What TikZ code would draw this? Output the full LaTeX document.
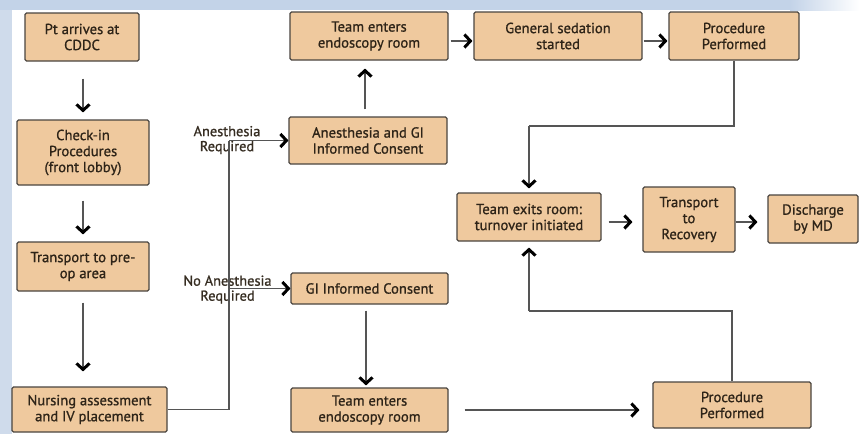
\documentclass[tikz,border=0pt]{standalone}
\usepackage{fontspec}
\setmainfont{PT Sans}[FakeBold=0.9]
\usetikzlibrary{arrows.meta,calc}
\definecolor{boxfill}{HTML}{EFC99E}
\definecolor{boxline}{HTML}{4A4540}
\definecolor{txt}{HTML}{2E2418}
\definecolor{conn}{HTML}{555555}
\definecolor{bandtop}{HTML}{C3D3E8}
\definecolor{bandleft}{HTML}{CFDBEB}
\begin{document}
\begin{tikzpicture}[x=1pt,y=-1pt,
  box/.style={draw=boxline, line width=1.1pt, fill=boxfill, rounded corners=1.5pt,
    align=center, inner sep=0pt, text=txt,
    font=\fontsize{14.6}{16}\selectfont},
  lbl/.style={align=center, inner sep=0pt, text=txt!90!gray,
    font=\fontsize{14.4}{15}\selectfont},
  conline/.style={draw=conn, line width=1.8pt},
  arr/.style={conline, -{Straight Barb[length=6pt,width=13pt,line width=3pt,color=black]}}
]
\useasboundingbox (0,0) rectangle (859,434);
% background
\fill[white] (0,0) rectangle (859,434);
\fill[bandleft] (0,0) rectangle (12,434);
\fill[bandtop] (0,0) rectangle (790,10);
\shade[left color=bandtop, right color=white] (790,0) rectangle (859,10);

% boxes
\node[box, minimum width=114pt, minimum height=48pt] (pt) at (82,37) {Pt arrives at\\CDDC};
\node[box, minimum width=132pt, minimum height=65pt] (chk) at (83,152.5) {Check-in\\Procedures\\(front lobby)};
\node[box, minimum width=132pt, minimum height=49pt] (tpo) at (83,266.5) {Transport to pre-\\op area};
\node[box, minimum width=155pt, minimum height=45pt] (nur) at (89.5,409.5) {Nursing assessment\\and IV placement};
\node[box, minimum width=158pt, minimum height=47pt] (agi) at (368,140.5) {Anesthesia and GI\\Informed Consent};
\node[box, minimum width=157pt, minimum height=31pt] (gi) at (369.5,288.5) {GI Informed Consent};
\node[box, minimum width=158pt, minimum height=48pt] (ter1) at (369,36) {Team enters\\endoscopy room};
\node[box, minimum width=168pt, minimum height=48pt] (gs) at (558,36) {General sedation\\started};
\node[box, minimum width=130pt, minimum height=48pt] (pp1) at (734,36) {Procedure\\Performed};
\node[box, minimum width=144pt, minimum height=48pt] (tex) at (529,217) {Team exits room:\\turnover initiated};
\node[box, minimum width=92pt, minimum height=65pt] (trr) at (689,219.5) {Transport\\to\\Recovery};
\node[box, minimum width=90pt, minimum height=48pt] (dis) at (813,219) {Discharge\\by MD};
\node[box, minimum width=157pt, minimum height=44pt] (ter2) at (369.5,410) {Team enters\\endoscopy room};
\node[box, minimum width=158pt, minimum height=46pt] (pp2) at (732,405) {Procedure\\Performed};

% labels
\node[lbl] (la) at (227,140) {Anesthesia\\Required};
\node[lbl] (lna) at (227.5,289.5) {No Anesthesia\\Required};

% coordinates
\coordinate (br1) at (229,140.5);
\coordinate (br2) at (229,288.5);
\coordinate (k1) at (529,126);
\coordinate (k2) at (529,311);

% connectors
\draw[arr, shorten <=17pt, shorten >=7pt] (pt.south -| 83,0) -- (chk.north);
\draw[arr, shorten <=15pt, shorten >=7pt] (chk.south) -- (tpo.north);
\draw[arr, shorten <=11pt, shorten >=15pt] (tpo.south) -- (tpo.south |- nur.north);
\draw[conline] (nur.east) -| (br1);
\draw[arr] (br1) -- (agi.west);
\draw[arr] (br2) -- (gi.west);
\draw[arr, shorten <=7pt, shorten >=8pt] ([xshift=-3pt]agi.north) -- ([xshift=-3pt]agi.north |- ter1.south);
\draw[arr, shorten <=2pt, shorten >=1pt] ([yshift=-5pt]ter1.east) -- ([yshift=-5pt]gs.west);
\draw[arr, shorten <=1pt, shorten >=1pt] ([yshift=-5pt]gs.east) -- ([yshift=-5pt]pp1.west);
\draw[conline] (pp1.south) |- (k1);
\draw[arr, shorten >=4pt] (k1) -- (tex.north);
\draw[conline] (pp2.north) |- (k2);
\draw[arr, shorten >=6pt] (k2) -- (tex.south);
\draw[arr, shorten <=7pt, shorten >=10pt] ([yshift=-5pt]tex.east) -- ([yshift=-5pt]tex.east -| trr.west);
\draw[arr, shorten >=10pt] ([yshift=-2.5pt]trr.east) -- ([yshift=-2.5pt]trr.east -| dis.west);
\draw[arr, shorten <=6pt, shorten >=2pt] ([xshift=-3.5pt]gi.south) -- ([xshift=-3.5pt]gi.south |- ter2.north);
\draw[arr, shorten <=16pt, shorten >=13pt] (ter2.east) -- (ter2.east -| pp2.west);
\end{tikzpicture}
\end{document}
